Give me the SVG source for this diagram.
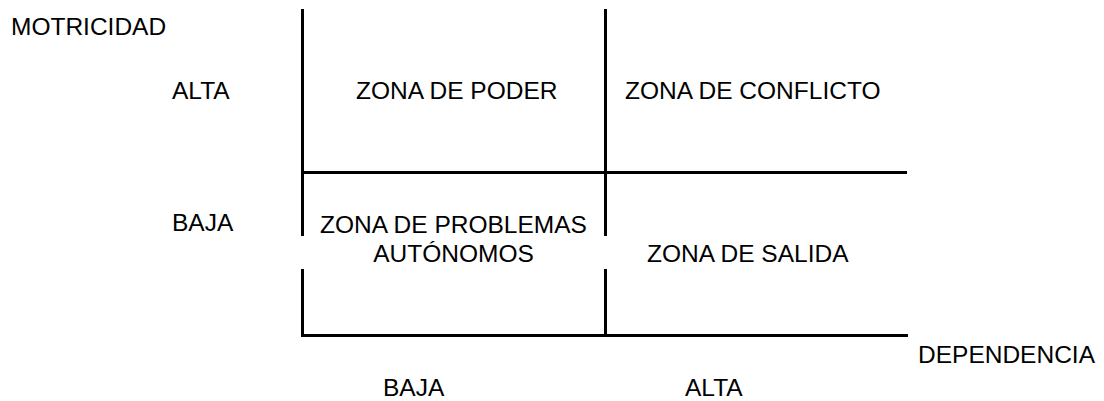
<svg xmlns="http://www.w3.org/2000/svg" width="1104" height="401" viewBox="0 0 1104 401">
<style>
text{font-family:"Liberation Sans",Arial,sans-serif;font-size:24.5px;fill:#000}
.ln{stroke:#000;stroke-width:3;fill:none}
.c{text-anchor:middle}
</style>
<rect width="1104" height="401" fill="#fff"/>
<g id="connectors">
<line class="ln" x1="302.5" y1="9" x2="302.5" y2="236"/>
<line class="ln" x1="302.5" y1="269" x2="302.5" y2="337"/>
<line class="ln" x1="605.5" y1="9" x2="605.5" y2="236"/>
<line class="ln" x1="605.5" y1="269" x2="605.5" y2="337"/>
<line class="ln" x1="302" y1="172.5" x2="907" y2="172.5"/>
<line class="ln" x1="301" y1="335.5" x2="908" y2="335.5"/>
</g>
<g id="motricidad"><text x="11" y="35">MOTRICIDAD</text></g>
<g id="mot-alta"><text x="172" y="99">ALTA</text></g>
<g id="mot-baja"><text x="172" y="231">BAJA</text></g>
<g id="zona-poder"><text x="356" y="99">ZONA DE PODER</text></g>
<g id="zona-conflicto"><text x="625" y="99">ZONA DE CONFLICTO</text></g>
<g id="zona-problemas"><text class="c" x="453.5" y="233">ZONA DE PROBLEMAS</text><text class="c" x="453.5" y="262">AUTÓNOMOS</text></g>
<g id="zona-salida"><text x="647" y="262">ZONA DE SALIDA</text></g>
<g id="dependencia"><text x="918" y="363">DEPENDENCIA</text></g>
<g id="dep-baja"><text x="383" y="396">BAJA</text></g>
<g id="dep-alta"><text x="685" y="396">ALTA</text></g>
</svg>
